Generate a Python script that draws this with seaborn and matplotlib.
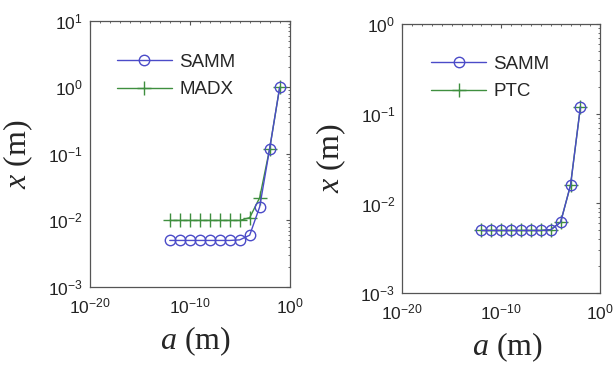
import numpy as np
import pandas as pd
import seaborn as sns
import matplotlib
matplotlib.use('Agg')
import matplotlib.pyplot as plt
from matplotlib.ticker import LogLocator, NullFormatter

# exponents of a (m), one point per decade
a_exp_left = [-12, -11, -10, -9, -8, -7, -6, -5, -4, -3, -2, -1]
a_exp_right = [-12, -11, -10, -9, -8, -7, -6, -5, -4, -3, -2]

# x (m) values
samm_left = [5e-3, 5e-3, 5e-3, 5e-3, 5e-3, 5e-3, 5e-3, 5.1e-3, 6e-3, 0.016, 0.12, 1.0]
madx_left = [0.01, 0.01, 0.01, 0.01, 0.01, 0.01, 0.01, 0.01, 0.011, 0.022, 0.12, 1.0]
samm_right = [5e-3, 5e-3, 5e-3, 5e-3, 5e-3, 5e-3, 5e-3, 5.1e-3, 6.2e-3, 0.016, 0.12]
ptc_right = [5e-3, 5e-3, 5e-3, 5e-3, 5e-3, 5e-3, 5e-3, 5.1e-3, 6.2e-3, 0.016, 0.12]

blue = '#4b4bc8'
green = '#3f8f3f'

sns.set_style('white')
plt.rcParams['font.family'] = ['Liberation Sans', 'DejaVu Sans']
plt.rcParams['mathtext.fontset'] = 'custom'
plt.rcParams['mathtext.it'] = 'Liberation Serif:italic'
plt.rcParams['mathtext.rm'] = 'Liberation Serif'

fig = plt.figure(figsize=(6.15, 3.66), dpi=100)
ax1 = fig.add_axes([0.146, 0.216, 0.325, 0.727])
ax2 = fig.add_axes([0.654, 0.199, 0.322, 0.735])


def draw(ax, a_exp, s1, s2, name2, ylim, leg_anchor):
    a = 10.0 ** np.array(a_exp)
    df = pd.DataFrame({'a': a, 'SAMM': s1, name2: s2})
    sns.lineplot(data=df, x='a', y=name2, ax=ax, color=green, marker='+',
                 markersize=10, markeredgecolor=green, markeredgewidth=1.0,
                 linewidth=1.0, label=name2)
    sns.lineplot(data=df, x='a', y='SAMM', ax=ax, color=blue, marker='o',
                 markersize=7.5, markerfacecolor='none', markeredgecolor=blue,
                 markeredgewidth=1.0, linewidth=1.0, label='SAMM')
    ax.set_xscale('log')
    ax.set_yscale('log')
    ax.set_xlim(1e-20, 1e0)
    ax.set_ylim(*ylim)
    ax.set_xticks([1e-20, 1e-10, 1e0])
    ax.xaxis.set_minor_locator(LogLocator(base=10, subs=(1.0,), numticks=30))
    ax.xaxis.set_minor_formatter(NullFormatter())
    ax.yaxis.set_minor_locator(LogLocator(base=10, subs=np.arange(2, 10), numticks=30))
    ax.yaxis.set_minor_formatter(NullFormatter())
    ax.tick_params(which='both', direction='in', top=True, right=True,
                   color='#555555', labelsize=12.5, labelcolor='#222222')
    ax.tick_params(which='major', length=3)
    ax.tick_params(which='minor', length=1.5)
    ax.tick_params(axis='x', pad=7)
    ax.tick_params(axis='y', pad=5)
    for sp in ax.spines.values():
        sp.set_color('#555555')
        sp.set_linewidth(0.9)
    ax.set_xlabel(r'$\mathit{a}$ (m)', fontsize=23, family='Liberation Serif')
    ax.set_ylabel(r'$\mathit{x}$ (m)', fontsize=23, family='Liberation Serif')
    ax.yaxis.set_label_coords(-0.275, 0.5)
    ax.xaxis.set_label_coords(0.53, -0.14)
    h, l = ax.get_legend_handles_labels()
    ax.legend(h[::-1], l[::-1], loc='upper left', frameon=False, fontsize=13.5,
              handlelength=2.9, handletextpad=0.4, labelspacing=0.55,
              bbox_to_anchor=leg_anchor, borderaxespad=0.0)


draw(ax1, a_exp_left, samm_left, madx_left, 'MADX', (1e-3, 1e1), (0.10, 0.905))
draw(ax2, a_exp_right, samm_right, ptc_right, 'PTC', (1e-3, 1e0), (0.11, 0.91))

fig.savefig('out.png', dpi=100)
